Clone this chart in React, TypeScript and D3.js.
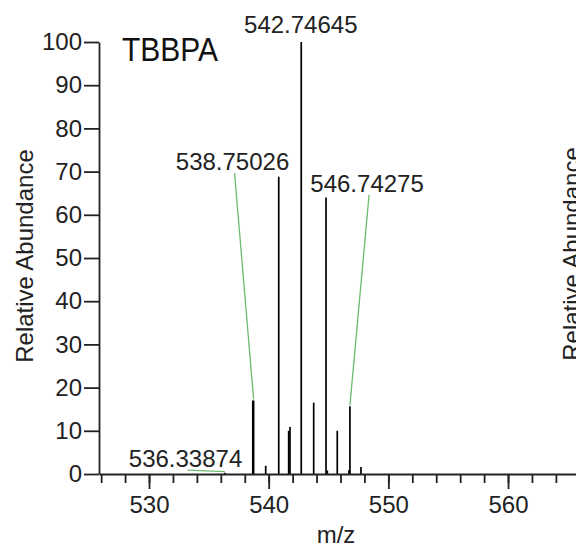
import React, { useRef, useEffect } from 'react';
import * as d3 from 'd3';

// peaks (m/z, relative abundance %)
const peakMz = [536.34, 538.67, 538.74, 539.75, 540.84, 541.67, 541.78, 542.72, 543.76, 544.79, 544.90, 545.73, 546.71, 546.79, 547.71];
const peakAbundance = [0.3, 17, 17, 1.9, 68.8, 10, 10.9, 100, 16.5, 64, 0.8, 10, 0.9, 15.7, 1.6];

// peak annotations: text, peak it points to, where the text sits
const labelText = ['542.74645', '538.75026', '546.74275', '536.33874'];
const labelPeakMz = [542.72, 538.74, 546.79, 536.34];
const labelPeakAbundance = [100, 17, 15.7, 0.3];
const labelMz = [542.68, 536.98, 548.22, 533.05];
const labelAbundance = [102.1, 70.4, 65.3, 1.6];
const labelLeader = [false, true, true, true];

const xMajorTicks = [530, 540, 550, 560];
const xMinorTicks = d3.range(526, 566, 2);
const yTicks = [0, 10, 20, 30, 40, 50, 60, 70, 80, 90, 100];

const FONT = '"Liberation Sans", Arial, sans-serif';
const INK = '#222';

const App = () => {
    const svgRef = useRef<SVGSVGElement>(null);

    useEffect(() => {
        const svg = d3.select(svgRef.current);
        svg.selectAll('*').remove();

        const x = d3.scaleLinear().domain([525.82, 565.68]).range([99, 576]);
        const y = d3.scaleLinear().domain([0, 100]).range([474, 42]);

        // bars (stick spectrum)
        svg.append('g')
            .selectAll('line')
            .data(peakMz.map((m, i) => ({ m, v: peakAbundance[i] })))
            .join('line')
            .attr('x1', d => x(d.m))
            .attr('x2', d => x(d.m))
            .attr('y1', y(0))
            .attr('y2', d => y(d.v))
            .attr('stroke', '#000')
            .attr('stroke-width', 1.7);

        // green leader lines
        const ann = labelText.map((t, i) => ({
            t, pm: labelPeakMz[i], pv: labelPeakAbundance[i], lm: labelMz[i], lv: labelAbundance[i], leader: labelLeader[i]
        }));
        svg.append('g')
            .selectAll('line')
            .data(ann.filter(d => d.leader))
            .join('line')
            .attr('x1', d => x(d.lm) + 2)
            .attr('y1', d => y(d.lv) + 3)
            .attr('x2', d => x(d.pm))
            .attr('y2', d => y(d.pv) - 1)
            .attr('stroke', '#6dbb6d')
            .attr('stroke-width', 1.3);

        svg.append('g')
            .selectAll('text')
            .data(ann)
            .join('text')
            .attr('x', d => x(d.lm))
            .attr('y', d => y(d.lv))
            .attr('text-anchor', 'middle')
            .attr('font-family', FONT)
            .attr('font-size', 24)
            .attr('fill', INK)
            .text(d => d.t);

        // axes
        const styleAxis = (g: any) => {
            g.selectAll('path, line').attr('stroke', INK).attr('stroke-width', 1.8);
            g.selectAll('text').attr('font-family', FONT).attr('font-size', 24).attr('fill', INK);
        };

        svg.append('g')
            .attr('transform', `translate(0,${y(0)})`)
            .call(d3.axisBottom(x).tickValues(xMinorTicks).tickSize(9).tickSizeOuter(0).tickFormat(() => ''))
            .call(styleAxis);

        svg.append('g')
            .attr('transform', `translate(0,${y(0)})`)
            .call(d3.axisBottom(x).tickValues(xMajorTicks).tickSize(15).tickSizeOuter(0).tickPadding(7).tickFormat(d3.format('d')))
            .call((g: any) => g.select('.domain').remove())
            .call(styleAxis);

        svg.append('g')
            .attr('transform', `translate(${x(525.82)},0)`)
            .call(d3.axisLeft(y).tickValues(yTicks).tickSize(15).tickSizeOuter(0).tickPadding(2))
            .call(styleAxis);

        // titles
        svg.append('text')
            .attr('transform', 'translate(122,61) scale(1,1.1)')
            .attr('font-family', FONT)
            .attr('font-size', 30)
            .attr('fill', '#111')
            .text('TBBPA');

        svg.append('text')
            .attr('x', 336)
            .attr('y', 543)
            .attr('text-anchor', 'middle')
            .attr('font-family', FONT)
            .attr('font-size', 24)
            .attr('fill', INK)
            .text('m/z');

        svg.append('text')
            .attr('transform', 'translate(33,256) rotate(-90)')
            .attr('text-anchor', 'middle')
            .attr('font-family', FONT)
            .attr('font-size', 24)
            .attr('fill', INK)
            .text('Relative Abundance');

        // next panel's axis title, cut by the edge
        svg.append('text')
            .attr('transform', 'translate(580,254) rotate(-90)')
            .attr('text-anchor', 'middle')
            .attr('font-family', FONT)
            .attr('font-size', 24)
            .attr('fill', INK)
            .text('Relative Abundance');
    }, []);

    return (
        <svg
            ref={svgRef}
            width={576}
            height={547}
            style={{ position: 'absolute', left: 0, top: 0, background: '#fff' }}
        />
    );
};

export default App;
